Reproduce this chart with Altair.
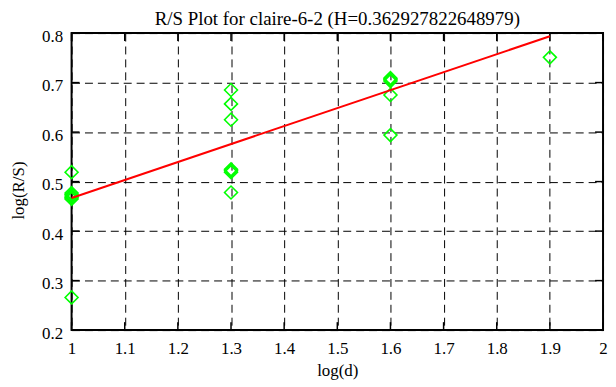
import altair as alt
import pandas as pd

title_text = "R/S Plot for claire-6-2 (H=0.362927822648979)"
H = 0.362927822648979

# observed points (log(d), log(R/S))
pt_x = [1.0, 1.0, 1.0, 1.0, 1.0, 1.0, 1.0,
        1.3, 1.3, 1.3, 1.3, 1.3, 1.3, 1.3,
        1.6, 1.6, 1.6, 1.6, 1.6,
        1.9]
pt_y = [0.519, 0.477, 0.474, 0.471, 0.468, 0.465, 0.266,
        0.685, 0.657, 0.625, 0.525, 0.522, 0.519, 0.478,
        0.709, 0.706, 0.703, 0.675, 0.594,
        0.751]

# fitted line
line_x = [1.0, 1.9]
line_y = [0.467, 0.467 + H * 0.9]

x_ticks = [1.0, 1.1, 1.2, 1.3, 1.4, 1.5, 1.6, 1.7, 1.8, 1.9, 2.0]
y_ticks = [0.2, 0.3, 0.4, 0.5, 0.6, 0.7, 0.8]

pts = pd.DataFrame({"x": pt_x, "y": pt_y})
fit = pd.DataFrame({"x": line_x, "y": line_y})
xt = pd.DataFrame({"x": x_ticks})
yt = pd.DataFrame({"y": y_ticks})

W, Hh = 535, 299
FONT = "Liberation Serif"

xscale = alt.Scale(domain=[1, 2], nice=False, zero=False)
yscale = alt.Scale(domain=[0.2, 0.8], nice=False, zero=False)

common = dict(grid=True, gridDash=[8, 5], gridColor="black", gridWidth=1, gridOpacity=1,
              ticks=False, domain=False, labelFlush=False, format="~g",
              labelFont=FONT, titleFont=FONT, labelFontSize=17, titleFontSize=17,
              labelColor="black", titleColor="black", titleFontWeight="normal")
xaxis = alt.Axis(values=x_ticks, title="log(d)", labelPadding=11, titlePadding=6, **common)
yaxis = alt.Axis(values=y_ticks, title="log(R/S)", labelPadding=9, titlePadding=14,
                 labelOffset=3, titleY=158, **common)

points = alt.Chart(pts).mark_point(
    shape="diamond", filled=False, size=170, strokeWidth=1.6, color="#00ff00", opacity=1
).encode(
    x=alt.X("x:Q", scale=xscale, axis=xaxis),
    y=alt.Y("y:Q", scale=yscale, axis=yaxis),
)

line = alt.Chart(fit).mark_line(color="#ff0000", strokeWidth=2).encode(
    x=alt.X("x:Q", scale=xscale), y=alt.Y("y:Q", scale=yscale)
)

tk = dict(color="black", thickness=1.5, size=8, opacity=1)
xt_bot = alt.Chart(xt).mark_tick(**tk).encode(x=alt.X("x:Q", scale=xscale), y=alt.value(Hh - 4))
xt_top = alt.Chart(xt).mark_tick(**tk).encode(x=alt.X("x:Q", scale=xscale), y=alt.value(4))
yt_left = alt.Chart(yt).mark_tick(**tk).encode(y=alt.Y("y:Q", scale=yscale), x=alt.value(4))
yt_right = alt.Chart(yt).mark_tick(**tk).encode(y=alt.Y("y:Q", scale=yscale), x=alt.value(W - 4))

chart = alt.layer(points, xt_bot, xt_top, yt_left, yt_right, line).properties(
    width=W, height=Hh,
    background="white",
    title=alt.TitleParams(title_text, anchor="middle", fontSize=19, font=FONT,
                          fontWeight="normal", color="black", offset=-2),
    autosize=alt.AutoSizeParams(type="none"),
    padding={"left": 64, "top": 24, "right": 5, "bottom": 55},
).configure_view(
    stroke="black", strokeWidth=2
)

chart.save("out.html", embed_options={"renderer": "svg", "actions": False})
